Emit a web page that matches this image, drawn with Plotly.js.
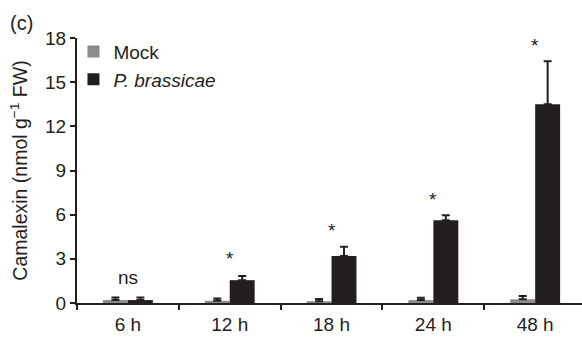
<!DOCTYPE html>
<html><head><meta charset="utf-8">
<script src="https://cdn.plot.ly/plotly-3.0.1.min.js"></script>
<style>body{margin:0;background:#fff}#c{width:582px;height:343px}</style>
</head><body><div id="c"></div>
<script>
const categories = ["6 h", "12 h", "18 h", "24 h", "48 h"];
const mockValues = [0.2, 0.15, 0.12, 0.2, 0.25];
const mockErrors = [0.18, 0.16, 0.16, 0.16, 0.22];
const pbValues = [0.2, 1.55, 3.2, 5.62, 13.5];
const pbErrors = [0.18, 0.28, 0.62, 0.34, 2.92];
const sigLabels = ["ns", "*", "*", "*", "*"];
const sigHeights = [1.75, 3.0, 4.95, 7.05, 17.5];
const yTicks = [0, 3, 6, 9, 12, 15, 18];

const FONT = "Liberation Sans, Arial, Helvetica, sans-serif";
const ink = "#231f20";

const traces = [
  {type: "bar", name: "Mock", x: categories, y: mockValues,
   marker: {color: "#8b8b8b"},
   error_y: {type: "data", array: mockErrors, symmetric: false, arrayminus: mockValues.map(() => 0),
             color: ink, thickness: 2, width: 4}},
  {type: "bar", name: "<i>P. brassicae</i>", x: categories, y: pbValues,
   marker: {color: ink},
   error_y: {type: "data", array: pbErrors, symmetric: false, arrayminus: pbValues.map(() => 0),
             color: ink, thickness: 2, width: 4}}
];

const annotations = categories.map((c, i) => ({
  x: c, y: sigHeights[i], xref: "x", yref: "y", text: sigLabels[i],
  showarrow: false, font: {family: FONT, size: 19, color: ink}
}));
annotations.push({x: 0, y: 1, xref: "paper", yref: "paper", xanchor: "left", yanchor: "middle",
  xshift: -69, yshift: 15, text: "(c)", showarrow: false, font: {family: FONT, size: 20, color: ink}});

const layout = {
  width: 582, height: 343,
  margin: {l: 77, r: 0, t: 38, b: 40},
  paper_bgcolor: "#fff", plot_bgcolor: "#fff",
  font: {family: FONT, size: 19, color: ink},
  barmode: "group", bargap: 0.51, bargroupgap: 0,
  showlegend: true,
  legend: {x: -0.007, y: 1.02, xanchor: "left", yanchor: "top", bgcolor: "rgba(0,0,0,0)",
           font: {family: FONT, size: 19, color: ink}, tracegroupgap: 0, itemwidth: 30},
  xaxis: {type: "category", range: [-0.5, 4.46], tickson: "boundaries",
          ticks: "outside", ticklen: 5, tickwidth: 2, tickcolor: ink,
          showline: true, linecolor: ink, linewidth: 2, showgrid: false, zeroline: false,
          ticklabelstandoff: 3,
          tickfont: {family: FONT, size: 19, color: ink}, fixedrange: true},
  yaxis: {range: [0, 18], tickvals: yTicks, ticks: "outside", ticklen: 5, tickwidth: 2, tickcolor: ink,
          showline: true, linecolor: ink, linewidth: 2, showgrid: false, zeroline: false,
          tickfont: {family: FONT, size: 19, color: ink},
          title: {text: "Camalexin (nmol g<sup>−1</sup> FW)", font: {family: FONT, size: 19.5, color: ink}, standoff: 12}},
  annotations: annotations
};

Plotly.newPlot("c", traces, layout, {staticPlot: true, displayModeBar: false});
</script></body></html>
